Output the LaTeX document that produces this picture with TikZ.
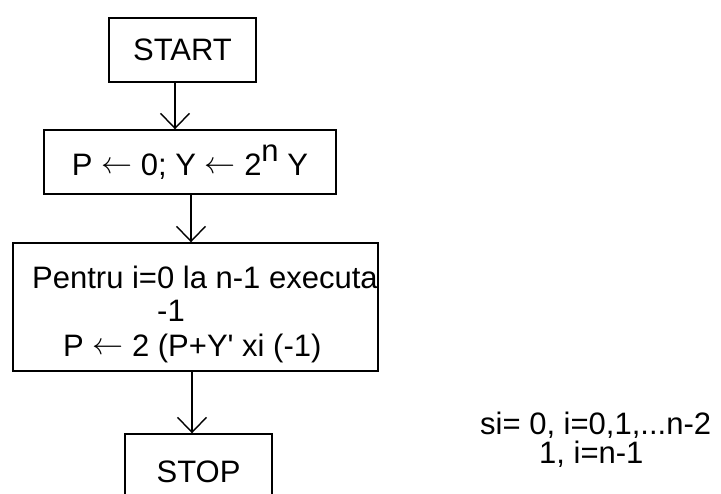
\documentclass[tikz,border=0pt]{standalone}
\usepackage{fix-cm}
\usepackage{fontspec}
\setmainfont{Liberation Sans}
\usetikzlibrary{arrows.meta}
\newcommand\myfs{\fontsize{31}{36}\selectfont}
\newcommand\larr{\raisebox{0.07em}{$\leftarrow$}}
\begin{document}
\begin{tikzpicture}[x=1pt,y=-1pt,
  box/.style={draw, line width=1.4pt, inner sep=0pt, font=\myfs},
  txt/.style={inner sep=0pt, font=\myfs},
  flow/.style={line width=1.4pt, -{Straight Barb[length=15pt,width=29pt]}}]
\useasboundingbox (0,0) rectangle (721,494);
\clip (0,0) rectangle (721,494);
\fill[white] (0,0) rectangle (721,494);
\node[box, minimum width=147pt, minimum height=64pt] (start) at (182.5,50) {START};
\node[box, minimum width=292pt, minimum height=64pt] (init) at (190,162) {P \larr{} 0; Y \larr{} 2\raisebox{0.45em}{n} Y};
\node[box, minimum width=365pt, minimum height=128pt] (loop) at (195.5,307) {};
\node[box, minimum width=147pt, minimum height=76pt] (stop) at (198.5,472) {STOP};
\node[txt, anchor=base west] (l1) at (32,289) {Pentru i=0 la n-1 executa};
\node[txt, anchor=base west] (l2) at (157,322) {-1};
\node[txt, anchor=base west] (l3) at (63,357) {P \larr{} 2 (P+Y\textquotesingle{} xi (-1)};
\node[txt, anchor=base west] (s1) at (480,435) {si= 0, i=0,1,...n-2};
\node[txt, anchor=base west] (s2) at (539,464) {1, i=n-1};
\coordinate (c1) at (175,0);
\coordinate (c2) at (191,0);
\coordinate (c3) at (192,0);
\draw[flow] (start.south -| c1) -- (init.north -| c1);
\draw[flow] (init.south -| c2) -- (loop.north -| c2);
\draw[flow] (loop.south -| c3) -- (stop.north -| c3);
\end{tikzpicture}
\end{document}
